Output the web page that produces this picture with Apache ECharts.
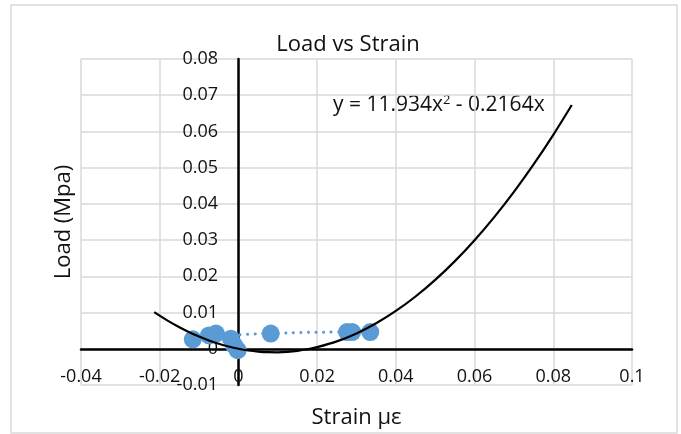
<!DOCTYPE html>
<html>
<head>
<meta charset="utf-8">
<script src="https://cdn.jsdelivr.net/npm/echarts@6/dist/echarts.min.js"></script>
<style>
  html, body { margin: 0; padding: 0; background: #fff; }
  #chart { width: 681px; height: 434px; }
</style>
</head>
<body>
<div id="chart"></div>
<script>
// measured points (strain, load), in plotting order
const strain = [-0.0116, -0.0075, -0.0057, -0.0002, -0.0011, -0.0019, 0.0082, 0.0276, 0.0289, 0.0335]
const load = [0.0026, 0.0037, 0.0042, -0.0004, 0.0010, 0.0028, 0.0042, 0.0046, 0.0046, 0.0046]

// trendline as drawn (y = 11.934x^2 - 0.2164x)
const trendX = [-0.0214, -0.018, -0.015, -0.0125, -0.01, -0.0075, -0.005, -0.0025, 0, 0.0025, 0.005, 0.0075, 0.01, 0.0125, 0.015, 0.0175, 0.02, 0.025, 0.03, 0.035, 0.04, 0.045, 0.05, 0.055, 0.06, 0.065, 0.07, 0.075, 0.08, 0.0847]
const trendY = [0.0101, 0.00776, 0.00593, 0.00457, 0.00336, 0.00229, 0.00138, 0.00062, 0, -0.00047, -0.00078, -0.00095, -0.00097, -0.00084, -0.00056, -0.00013, 0.00045, 0.00205, 0.00425, 0.00704, 0.01044, 0.01443, 0.01902, 0.02420, 0.02998, 0.03636, 0.04333, 0.05090, 0.05906, 0.06729]

const FONT = 'Open Sans'

var myChart = echarts.init(document.getElementById('chart'))

var option = {
  animation: false,
  backgroundColor: '#fff',
  textStyle: { fontFamily: FONT },
  title: {
    text: 'Load vs Strain',
    left: 343,
    textAlign: 'center',
    top: 29,
    textStyle: { fontFamily: FONT, fontSize: 22, fontWeight: 'normal', color: '#111' },
  },
  graphic: [
    {
      type: 'rect',
      shape: { x: 11, y: 5, width: 666, height: 428 },
      style: { fill: 'none', stroke: '#d9d9d9', lineWidth: 1.5 },
      silent: true,
    },
    {
      type: 'text',
      left: 333,
      top: 94,
      style: {
        text: 'y = 11.934x{s|2} - 0.2164x',
        rich: {
          s: { fontSize: 13, verticalAlign: 'top', padding: [0, 0, 10, 0], fontFamily: FONT, fill: '#111' },
        },
        font: '21px "Open Sans"',
        fill: '#111',
      },
    },
  ],
  grid: { left: 81, right: 49, top: 59, bottom: 49, containLabel: false, outerBoundsMode: 'none' },
  xAxis: {
    type: 'value',
    min: -0.04,
    max: 0.1,
    interval: 0.02,
    offset: -36,
    name: 'Strain με',
    nameLocation: 'middle',
    nameGap: 58,
    nameTextStyle: { fontFamily: FONT, fontSize: 22, color: '#111' },
    axisLine: { onZero: false, lineStyle: { color: '#000', width: 2.5 } },
    axisTick: { show: false },
    axisLabel: { fontFamily: FONT, fontSize: 18, color: '#111', margin: 19 },
    splitLine: { show: true, lineStyle: { color: '#d9d9d9', width: 1.5 } },
  },
  yAxis: {
    type: 'value',
    min: -0.01,
    max: 0.08,
    interval: 0.01,
    offset: -157,
    name: 'Load (Mpa)',
    nameLocation: 'middle',
    nameGap: 163,
    nameTextStyle: { fontFamily: FONT, fontSize: 22, color: '#111' },
    axisLine: { show: true, onZero: false, lineStyle: { color: '#000', width: 2.5 } },
    axisTick: { show: false },
    axisLabel: { fontFamily: FONT, fontSize: 18, color: '#111', margin: 20 },
    splitLine: { show: true, lineStyle: { color: '#d9d9d9', width: 1.5 } },
  },
  series: [
    {
      name: 'Load',
      type: 'line',
      smooth: true,
      data: strain.map((x, i) => [x, load[i]]),
      symbol: 'circle',
      symbolSize: 18,
      itemStyle: { color: '#5b9bd5' },
      lineStyle: { color: '#5b9bd5', width: 3, type: [0.1, 7.5], cap: 'round' },
      z: 2,
    },
    {
      name: 'Trend',
      type: 'line',
      smooth: 0.3,
      showSymbol: false,
      data: trendX.map((x, i) => [x, trendY[i]]),
      lineStyle: { color: '#000', width: 2.2 },
      z: 3,
    },
  ],
}

myChart.setOption(option)
</script>
</body>
</html>
